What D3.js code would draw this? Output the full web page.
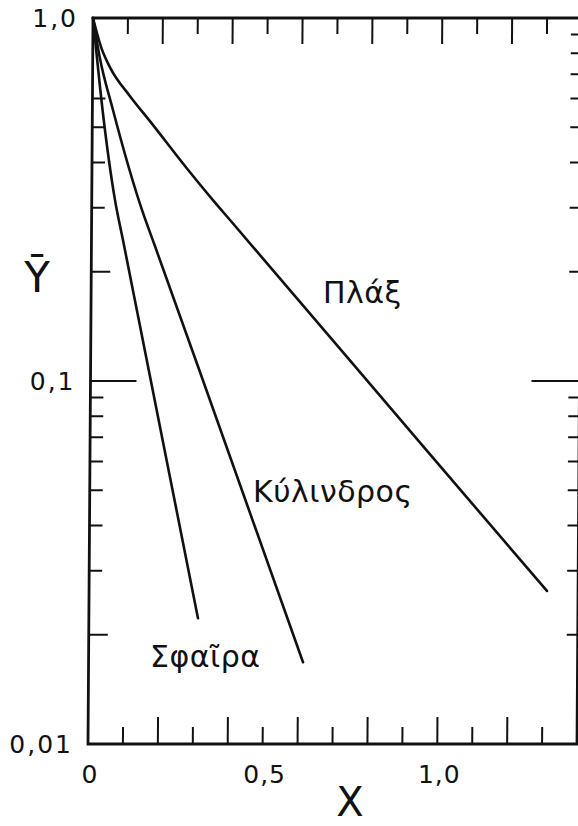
<!DOCTYPE html>
<html>
<head>
<meta charset="utf-8">
<script src="https://cdn.jsdelivr.net/npm/d3@7"></script>
<style>
  html, body { margin: 0; padding: 0; background: #fff; }
  svg { display: block; }
  text { font-family: "DejaVu Sans", "Noto Sans", sans-serif; fill: #111; }
</style>
</head>
<body>
<svg id="chart" width="578" height="826"></svg>
<script>
// Mean value Ȳ against dimensionless time X for a slab, a cylinder and a sphere
const slabX = [0, 0.024, 0.05, 0.107, 0.165, 0.272, 0.347, 0.40, 0.96, 1.311];
const slabY = [1.0, 0.83, 0.73, 0.61, 0.52, 0.385, 0.315, 0.275, 0.065, 0.0264];

const cylX = [0, 0.02, 0.059, 0.144, 0.18, 0.313, 0.614];
const cylY = [1.0, 0.78, 0.558, 0.296, 0.238, 0.106, 0.0168];

const sphX = [0, 0.03, 0.0666, 0.09, 0.2123, 0.3124];
const sphY = [1.0, 0.55, 0.315, 0.245, 0.0654, 0.0222];

const seriesNames = ["Πλάξ", "Κύλινδρος", "Σφαῖρα"];

const xTickValues = [0.1, 0.2, 0.3, 0.4, 0.5, 0.6, 0.7, 0.8, 0.9, 1.0, 1.1, 1.2, 1.3];
const xLabelValues = [0, 0.5, 1.0];
const xLabelText = ["0", "0,5", "1,0"];

const yTicksLeft = [0.02, 0.03, 0.04, 0.05, 0.06, 0.07, 0.08, 0.09, 0.1, 0.2, 0.3, 0.4, 0.5, 0.6];
const yTicksRight = [0.02, 0.03, 0.04, 0.05, 0.06, 0.07, 0.08, 0.09, 0.1, 0.2, 0.3, 0.4, 0.5, 0.6, 0.7, 0.8, 0.9];
const yLabelValues = [1, 0.1, 0.01];
const yLabelText = ["1,0", "0,1", "0,01"];

const x = d3.scaleLinear().domain([0, 1.4]).range([88, 577]);
const y = d3.scaleLog().domain([0.01, 1]).range([744, 18]);

// the hand-drawn frame leans slightly to the right towards the top
const lean = 5 / 726;
const leanX = (px, py) => px + lean * (744 - py);

const svg = d3.select("#chart");
const plot = svg.append("g")
  .attr("transform", `matrix(1,0,${-lean},1,${lean * 744},0)`);

// frame
plot.append("rect")
  .attr("x", x(0)).attr("y", y(1))
  .attr("width", x(1.4) - x(0)).attr("height", y(0.01) - y(1))
  .attr("fill", "none").attr("stroke", "#111").attr("stroke-width", 2.8);

// X ticks, bottom and top, longer on even tenths
const xLen = v => (Math.round(v * 10) % 2 === 0 ? 27 : 17);
plot.selectAll("line.xb").data(xTickValues).join("line")
  .attr("x1", d => x(d)).attr("x2", d => x(d))
  .attr("y1", y(0.01)).attr("y2", d => y(0.01) - xLen(d))
  .attr("stroke", "#111").attr("stroke-width", 2);
plot.selectAll("line.xt").data(xTickValues).join("line")
  .attr("x1", d => x(d)).attr("x2", d => x(d))
  .attr("y1", y(1)).attr("y2", d => y(1) + xLen(d) - 1)
  .attr("stroke", "#111").attr("stroke-width", 2);

// Ȳ ticks, left and right
const near = (a, b) => Math.abs(a - b) < 1e-9;
const yLenL = v => (near(v, 0.1) ? 46 : (near(v, 0.2) || near(v, 0.02) ? 19 : 13));
const yLenR = v => (near(v, 0.1) ? 48 : 11);
plot.selectAll("line.yl").data(yTicksLeft).join("line")
  .attr("x1", x(0)).attr("x2", d => x(0) + yLenL(d))
  .attr("y1", d => y(d)).attr("y2", d => y(d))
  .attr("stroke", "#111").attr("stroke-width", 2);
plot.selectAll("line.yr").data(yTicksRight).join("line")
  .attr("x1", x(1.4)).attr("x2", d => x(1.4) - yLenR(d))
  .attr("y1", d => y(d)).attr("y2", d => y(d))
  .attr("stroke", "#111").attr("stroke-width", 2);

// curves
const line = d3.line()
  .x(d => x(d[0])).y(d => y(d[1]))
  .curve(d3.curveMonotoneX);
const series = [
  d3.zip(slabX, slabY),
  d3.zip(cylX, cylY),
  d3.zip(sphX, sphY)
];
plot.selectAll("path.curve").data(series).join("path")
  .attr("class", "curve")
  .attr("d", line)
  .attr("fill", "none").attr("stroke", "#111")
  .attr("stroke-width", 2.6).attr("stroke-linejoin", "round").attr("stroke-linecap", "round");

// curve labels
const labelPos = [
  { x: 323, y: 303 },
  { x: 253, y: 502 },
  { x: 150, y: 667 }
];
svg.selectAll("text.name").data(seriesNames).join("text")
  .attr("class", "name")
  .attr("x", (d, i) => labelPos[i].x).attr("y", (d, i) => labelPos[i].y)
  .attr("font-size", 30).attr("letter-spacing", 0.5)
  .text(d => d);

// axis numbers
svg.selectAll("text.yl").data(yLabelValues).join("text")
  .attr("x", d => leanX(x(0), y(d)) - 15)
  .attr("y", d => y(d) + 9)
  .attr("text-anchor", "end").attr("font-size", 25).attr("letter-spacing", 2)
  .text((d, i) => yLabelText[i]);

svg.selectAll("text.xl").data(xLabelValues).join("text")
  .attr("x", d => x(d) + 2)
  .attr("y", y(0.01) + 39)
  .attr("text-anchor", "middle").attr("font-size", 25).attr("letter-spacing", 1)
  .text((d, i) => xLabelText[i]);

// axis titles
svg.append("text")
  .attr("x", 350).attr("y", 816)
  .attr("text-anchor", "middle").attr("font-size", 40)
  .text("X");
svg.append("text")
  .attr("x", 37).attr("y", 292)
  .attr("text-anchor", "middle").attr("font-size", 42)
  .text("Ȳ");
</script>
</body>
</html>
